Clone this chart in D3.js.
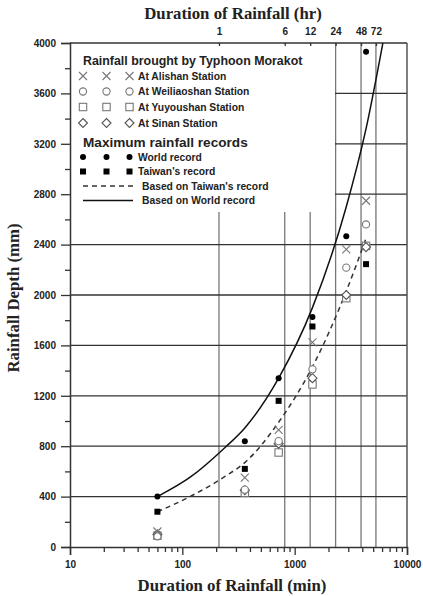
<!DOCTYPE html>
<html>
<head>
<meta charset="utf-8">
<script src="https://cdn.jsdelivr.net/npm/d3@7"></script>
<style>
  body { margin: 0; background: #fff; }
  svg text { fill: #222; }
</style>
</head>
<body>
<div id="chart"></div>
<script>
// durations (min) where the points sit
var durations = [60, 360, 720, 1440, 2880, 4320];

// Typhoon Morakot stations (mm)
var alishan     = [123, 550, 930, 1624, 2362, 2748];
var weiliaoshan = [85, 455, 840, 1410, 2217, 2560];
var yuyoushan   = [90, 430, 750, 1290, 1975, 2390];
var sinan       = [100, 450, 820, 1340, 2000, 2380];

// maximum rainfall records (mm)
var worldRecord  = [401, 840, 1340, 1825, 2466, 3930];
var taiwanRecord = [280, 620, 1160, 1750, 1990, 2245];

// envelope curves
var worldCurveMin  = [60, 120, 240, 360, 720, 1440, 2880, 4320, 6100];
var worldCurveMm   = [400, 560, 790, 945, 1340, 1900, 2700, 3320, 4000];
var taiwanCurveMin = [60, 120, 240, 360, 720, 1440, 2880, 4320];
var taiwanCurveMm  = [280, 405, 560, 670, 990, 1430, 2030, 2450];

// axis ticks
var yTicks = [0, 400, 800, 1200, 1600, 2000, 2400, 2800, 3200, 3600, 4000];
var xTicks = [10, 100, 1000, 10000];
var hrTicks = [1, 6, 12, 24, 48, 72];

(function() {
  var width = 423, height = 596;
  var pLeft = 70, pRight = 407, pTop = 43, pBottom = 547;

  var svg = d3.select("#chart").append("svg")
    .attr("width", width)
    .attr("height", height);

  var x = d3.scaleLog().domain([10, 10000]).range([pLeft, pRight]);
  var y = d3.scaleLinear().domain([0, 4000]).range([pBottom, pTop]);
  // hour axis is laid out on its own in the original figure
  var xh = d3.scaleLog().domain([0.01725, 167.9]).range([pLeft, pRight]);

  var sans = "'Liberation Sans', Arial, sans-serif";
  var serif = "'Liberation Serif', 'Times New Roman', serif";

  // grid
  svg.append("g").selectAll("line")
    .data(hrTicks)
    .enter().append("line")
    .attr("x1", function(d) { return xh(d); })
    .attr("x2", function(d) { return xh(d); })
    .attr("y1", pTop).attr("y2", pBottom)
    .attr("stroke", "#777").attr("stroke-width", 1.3);

  svg.append("g").selectAll("line")
    .data(yTicks.filter(function(d) { return d > 0 && d < 4000; }))
    .enter().append("line")
    .attr("x1", pLeft).attr("x2", pRight)
    .attr("y1", function(d) { return y(d); })
    .attr("y2", function(d) { return y(d); })
    .attr("stroke", "#333").attr("stroke-width", 1.3);

  // frame (top and right)
  svg.append("line").attr("x1", pLeft).attr("x2", pRight).attr("y1", pTop).attr("y2", pTop)
    .attr("stroke", "#333").attr("stroke-width", 1.5);
  svg.append("line").attr("x1", pRight).attr("x2", pRight).attr("y1", pTop).attr("y2", pBottom)
    .attr("stroke", "#555").attr("stroke-width", 1.5);

  // legend background hides the grid
  svg.append("rect")
    .attr("x", pLeft + 1).attr("y", pTop + 1)
    .attr("width", 264).attr("height", 168)
    .attr("fill", "#fff");

  // axes
  svg.append("g")
    .attr("transform", "translate(" + pLeft + ",0)")
    .call(d3.axisLeft(y).tickValues(yTicks).tickSize(9).tickPadding(5).tickFormat(d3.format("d")));
  svg.append("g")
    .attr("transform", "translate(" + pLeft + ",0)")
    .call(d3.axisLeft(y).tickValues(d3.range(200, 4000, 400)).tickSize(5).tickFormat(""))
    .call(function(g) { g.select(".domain").remove(); });

  svg.append("g")
    .attr("transform", "translate(0," + pBottom + ")")
    .call(d3.axisBottom(x).tickValues(xTicks).tickSize(8).tickPadding(6).tickFormat(d3.format("d")));
  var minor = [];
  [10, 100, 1000].forEach(function(b) {
    for (var k = 2; k < 10; k++) minor.push(b * k);
  });
  svg.append("g")
    .attr("transform", "translate(0," + pBottom + ")")
    .call(d3.axisBottom(x).tickValues(minor).tickSize(5).tickFormat(""))
    .call(function(g) { g.select(".domain").remove(); });

  var hAxis = svg.append("g")
    .attr("transform", "translate(0," + pTop + ")")
    .call(d3.axisTop(xh).tickValues(hrTicks).tickSizeInner(-3).tickSizeOuter(0).tickPadding(8).tickFormat(d3.format("d")));
  hAxis.select(".domain").remove();

  svg.selectAll(".domain").attr("stroke", "#333").attr("stroke-width", 1.5);
  svg.selectAll(".tick line").attr("stroke", "#333").attr("stroke-width", 1.3);
  svg.selectAll(".tick text")
    .attr("font-family", sans).attr("font-weight", "bold").attr("font-size", 10)
    .attr("fill", "#222");

  // axis titles
  svg.append("text").attr("x", 233).attr("y", 19).attr("text-anchor", "middle")
    .attr("font-family", serif).attr("font-weight", "bold").attr("font-size", 16.8)
    .text("Duration of Rainfall (hr)");
  svg.append("text").attr("x", 232).attr("y", 591).attr("text-anchor", "middle")
    .attr("font-family", serif).attr("font-weight", "bold").attr("font-size", 16.8)
    .text("Duration of Rainfall (min)");
  svg.append("text")
    .attr("transform", "translate(19,298) rotate(-90)")
    .attr("text-anchor", "middle")
    .attr("font-family", serif).attr("font-weight", "bold").attr("font-size", 16.8)
    .text("Rainfall Depth (mm)");

  // curves
  var line = d3.line()
    .x(function(d) { return x(d[0]); })
    .y(function(d) { return y(d[1]); })
    .curve(d3.curveMonotoneX);

  svg.append("path")
    .datum(worldCurveMin.map(function(d, i) { return [d, worldCurveMm[i]]; }))
    .attr("d", line).attr("fill", "none")
    .attr("stroke", "#111").attr("stroke-width", 1.5);
  svg.append("path")
    .datum(taiwanCurveMin.map(function(d, i) { return [d, taiwanCurveMm[i]]; }))
    .attr("d", line).attr("fill", "none")
    .attr("stroke", "#333").attr("stroke-width", 1.5)
    .attr("stroke-dasharray", "5,4");

  // markers
  var gray = "#777";
  function marker(g, kind, cx, cy) {
    if (kind === "x") {
      g.append("path")
        .attr("d", "M" + (cx - 4) + "," + (cy - 4) + "L" + (cx + 4) + "," + (cy + 4) +
          "M" + (cx - 4) + "," + (cy + 4) + "L" + (cx + 4) + "," + (cy - 4))
        .attr("stroke", gray).attr("stroke-width", 1.1).attr("fill", "none");
    } else if (kind === "circle") {
      g.append("circle").attr("cx", cx).attr("cy", cy).attr("r", 3.6)
        .attr("stroke", gray).attr("stroke-width", 1.1).attr("fill", "#fff");
    } else if (kind === "square") {
      g.append("rect").attr("x", cx - 3.7).attr("y", cy - 3.7).attr("width", 7.4).attr("height", 7.4)
        .attr("stroke", gray).attr("stroke-width", 1.1).attr("fill", "#fff");
    } else if (kind === "diamond") {
      g.append("path")
        .attr("d", "M" + cx + "," + (cy - 4.5) + "L" + (cx + 4.5) + "," + cy + "L" + cx + "," + (cy + 4.5) +
          "L" + (cx - 4.5) + "," + cy + "Z")
        .attr("stroke", "#555").attr("stroke-width", 1.1).attr("fill", "#fff");
    } else if (kind === "dot") {
      g.append("circle").attr("cx", cx).attr("cy", cy).attr("r", 3)
        .attr("fill", "#000");
    } else if (kind === "block") {
      g.append("rect").attr("x", cx - 3).attr("y", cy - 3).attr("width", 6).attr("height", 6)
        .attr("fill", "#000");
    }
  }

  var series = [
    { kind: "block", values: taiwanRecord },
    { kind: "dot", values: worldRecord },
    { kind: "square", values: yuyoushan },
    { kind: "diamond", values: sinan },
    { kind: "circle", values: weiliaoshan },
    { kind: "x", values: alishan }
  ];
  var pts = svg.append("g");
  series.forEach(function(s) {
    s.values.forEach(function(v, i) {
      marker(pts, s.kind, x(durations[i]), y(v));
    });
  });

  // legend
  var lg = svg.append("g");
  var symX = [83, 106.5, 129.5], textX = 138;

  lg.append("text").attr("x", 83).attr("y", 65)
    .attr("font-family", sans).attr("font-weight", "bold").attr("font-size", 12.4)
    .text("Rainfall brought by Typhoon Morakot");

  var stationRows = [
    { kind: "x", label: "At Alishan Station", y: 76 },
    { kind: "circle", label: "At Weiliaoshan Station", y: 91.5 },
    { kind: "square", label: "At Yuyoushan Station", y: 107 },
    { kind: "diamond", label: "At Sinan Station", y: 123 }
  ];
  stationRows.forEach(function(r) {
    symX.forEach(function(sx) { marker(lg, r.kind, sx, r.y); });
    lg.append("text").attr("x", textX).attr("y", r.y + 3.6)
      .attr("font-family", sans).attr("font-weight", "bold").attr("font-size", 10.3)
      .text(r.label);
  });

  lg.append("text").attr("x", 83).attr("y", 147)
    .attr("font-family", sans).attr("font-weight", "bold").attr("font-size", 13.6)
    .text("Maximum rainfall records");

  var recordRows = [
    { kind: "dot", label: "World record", y: 157 },
    { kind: "block", label: "Taiwan's record", y: 171.5 }
  ];
  recordRows.forEach(function(r) {
    symX.forEach(function(sx) { marker(lg, r.kind, sx, r.y); });
    lg.append("text").attr("x", textX).attr("y", r.y + 3.6)
      .attr("font-family", sans).attr("font-weight", "bold").attr("font-size", 10.3)
      .text(r.label);
  });

  lg.append("line").attr("x1", 83).attr("x2", 133).attr("y1", 186).attr("y2", 186)
    .attr("stroke", "#333").attr("stroke-width", 1.4).attr("stroke-dasharray", "5,4");
  lg.append("text").attr("x", textX + 4).attr("y", 189.6)
    .attr("font-family", sans).attr("font-weight", "bold").attr("font-size", 10.3)
    .text("Based on Taiwan's record");
  lg.append("line").attr("x1", 83).attr("x2", 133).attr("y1", 200.5).attr("y2", 200.5)
    .attr("stroke", "#111").attr("stroke-width", 1.4);
  lg.append("text").attr("x", textX + 4).attr("y", 204.1)
    .attr("font-family", sans).attr("font-weight", "bold").attr("font-size", 10.3)
    .text("Based on World record");
})();
</script>
</body>
</html>
